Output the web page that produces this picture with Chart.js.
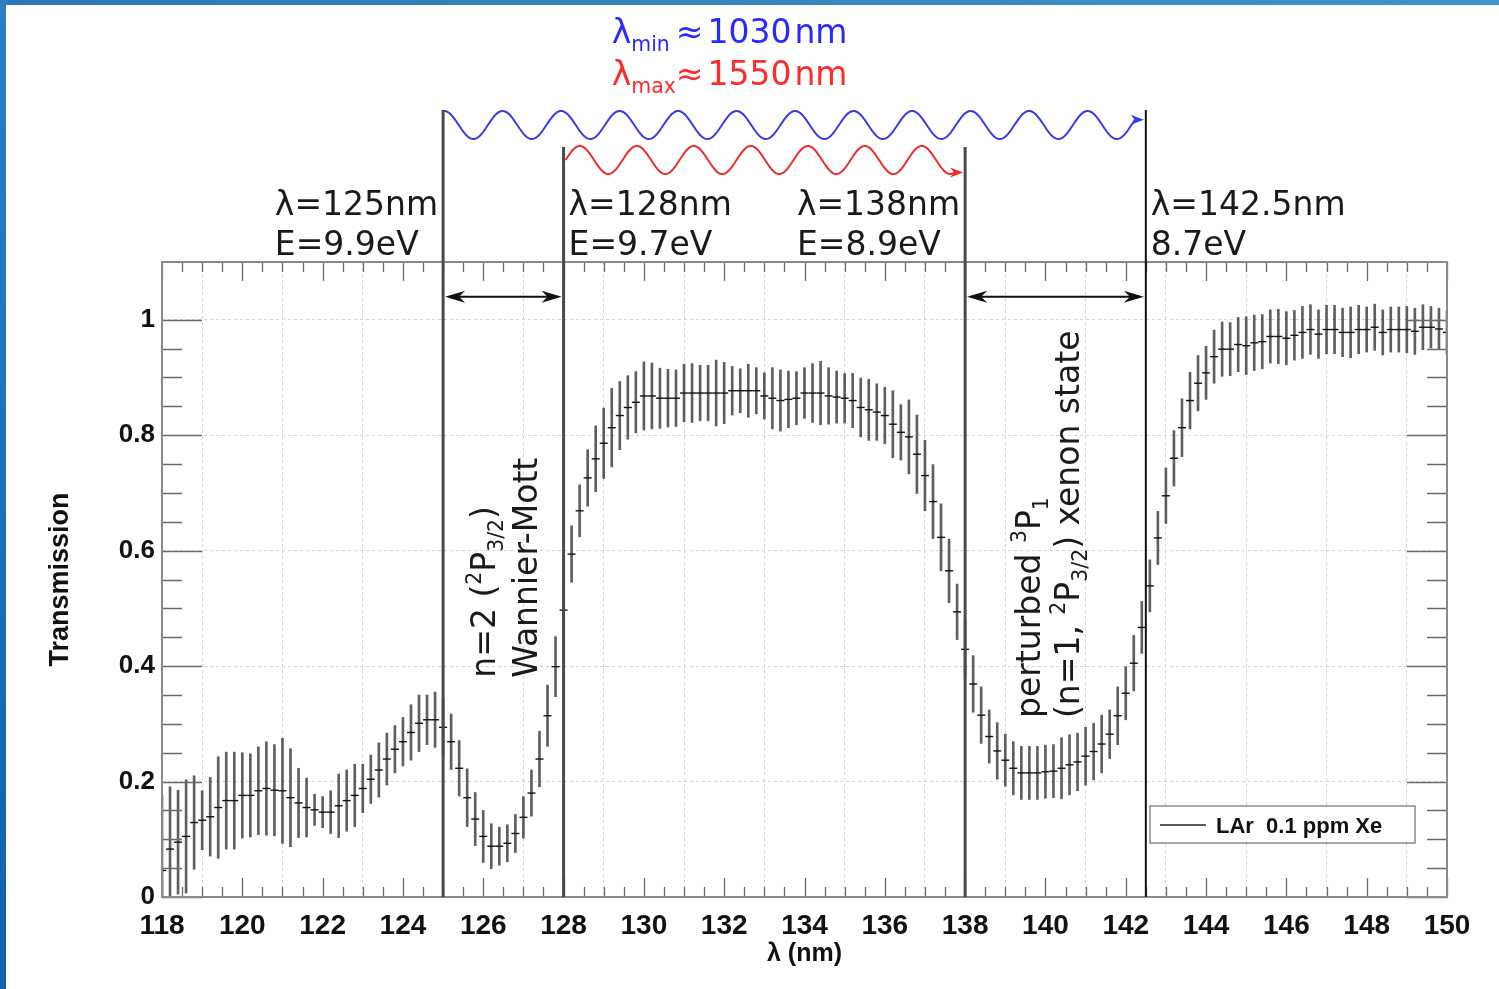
<!DOCTYPE html>
<html>
<head>
<meta charset="utf-8">
<title>LAr 0.1 ppm Xe - Transmission</title>
<script src="https://cdn.jsdelivr.net/npm/chart.js@4.4.1/dist/chart.umd.min.js"></script>
<style>
  html, body { margin: 0; padding: 0; background: #fff; }
  #wrap { position: relative; width: 1499px; height: 989px; overflow: hidden; background: #fff; }
  #topbar { position: absolute; left: 0; top: 0; width: 1499px; height: 5px; background: linear-gradient(90deg, #2a78b8, #3f92cc); z-index: 2; }
  #leftbar { position: absolute; left: 0; top: 0; width: 6px; height: 989px; background: linear-gradient(180deg, #2b7fbf, #1261a9); z-index: 2; }
  canvas { position: absolute; left: 0; top: 0; }
</style>
</head>
<body>
<div id="wrap">
  <div id="topbar"></div>
  <div id="leftbar"></div>
  <canvas id="chart" width="1499" height="989"></canvas>
</div>
<script>
// Transmisión de LAr con 0.1 ppm de Xe, con barras de error.

const wavelengths = [
  118.0, 118.2, 118.4, 118.6, 118.8, 119.0, 119.2, 119.4, 119.6, 119.8,
  120.0, 120.2, 120.4, 120.6, 120.8, 121.0, 121.2, 121.4, 121.6, 121.8,
  122.0, 122.2, 122.4, 122.6, 122.8, 123.0, 123.2, 123.4, 123.6, 123.8,
  124.0, 124.2, 124.4, 124.6, 124.8, 125.0, 125.2, 125.4, 125.6, 125.8,
  126.0, 126.2, 126.4, 126.6, 126.8, 127.0, 127.2, 127.4, 127.6, 127.8,
  128.0, 128.2, 128.4, 128.6, 128.8, 129.0, 129.2, 129.4, 129.6, 129.8,
  130.0, 130.2, 130.4, 130.6, 130.8, 131.0, 131.2, 131.4, 131.6, 131.8,
  132.0, 132.2, 132.4, 132.6, 132.8, 133.0, 133.2, 133.4, 133.6, 133.8,
  134.0, 134.2, 134.4, 134.6, 134.8, 135.0, 135.2, 135.4, 135.6, 135.8,
  136.0, 136.2, 136.4, 136.6, 136.8, 137.0, 137.2, 137.4, 137.6, 137.8,
  138.0, 138.2, 138.4, 138.6, 138.8, 139.0, 139.2, 139.4, 139.6, 139.8,
  140.0, 140.2, 140.4, 140.6, 140.8, 141.0, 141.2, 141.4, 141.6, 141.8,
  142.0, 142.2, 142.4, 142.6, 142.8, 143.0, 143.2, 143.4, 143.6, 143.8,
  144.0, 144.2, 144.4, 144.6, 144.8, 145.0, 145.2, 145.4, 145.6, 145.8,
  146.0, 146.2, 146.4, 146.6, 146.8, 147.0, 147.2, 147.4, 147.6, 147.8,
  148.0, 148.2, 148.4, 148.6, 148.8, 149.0, 149.2, 149.4, 149.6, 149.8,
  150.0
];

const transmission = [
  0.046, 0.083, 0.095, 0.105, 0.129, 0.133, 0.139, 0.155, 0.167, 0.167,
  0.176, 0.176, 0.184, 0.188, 0.185, 0.184, 0.172, 0.163, 0.155, 0.151,
  0.147, 0.147, 0.158, 0.167, 0.176, 0.188, 0.204, 0.220, 0.239, 0.256,
  0.269, 0.285, 0.301, 0.307, 0.307, 0.294, 0.269, 0.223, 0.172, 0.135,
  0.105, 0.088, 0.088, 0.093, 0.110, 0.138, 0.180, 0.239, 0.314, 0.399,
  0.497, 0.594, 0.669, 0.726, 0.759, 0.786, 0.813, 0.834, 0.848, 0.857,
  0.868, 0.868, 0.864, 0.864, 0.864, 0.873, 0.873, 0.873, 0.873, 0.873,
  0.873, 0.877, 0.877, 0.877, 0.877, 0.868, 0.864, 0.860, 0.862, 0.864,
  0.873, 0.873, 0.873, 0.868, 0.866, 0.864, 0.860, 0.848, 0.844, 0.840,
  0.834, 0.819, 0.805, 0.797, 0.767, 0.730, 0.685, 0.623, 0.565, 0.494,
  0.429, 0.369, 0.315, 0.278, 0.253, 0.237, 0.223, 0.215, 0.215, 0.215,
  0.217, 0.218, 0.223, 0.229, 0.234, 0.244, 0.252, 0.265, 0.282, 0.314,
  0.353, 0.405, 0.467, 0.539, 0.622, 0.695, 0.760, 0.813, 0.860, 0.890,
  0.908, 0.936, 0.949, 0.949, 0.957, 0.955, 0.960, 0.962, 0.971, 0.971,
  0.968, 0.973, 0.978, 0.983, 0.975, 0.983, 0.983, 0.978, 0.978, 0.983,
  0.983, 0.987, 0.978, 0.983, 0.983, 0.983, 0.980, 0.987, 0.987, 0.984,
  0.978
];

const transmissionErr = [
  0.130, 0.108, 0.090, 0.098, 0.081, 0.051, 0.068, 0.088, 0.084, 0.084,
  0.074, 0.072, 0.076, 0.081, 0.079, 0.091, 0.085, 0.060, 0.051, 0.027,
  0.027, 0.037, 0.055, 0.053, 0.054, 0.042, 0.042, 0.047, 0.045, 0.041,
  0.042, 0.048, 0.049, 0.043, 0.048, 0.050, 0.048, 0.048, 0.050, 0.046,
  0.045, 0.039, 0.033, 0.032, 0.033, 0.036, 0.040, 0.048, 0.053, 0.052,
  0.050, 0.049, 0.045, 0.049, 0.057, 0.061, 0.068, 0.059, 0.055, 0.053,
  0.059, 0.057, 0.052, 0.050, 0.049, 0.050, 0.051, 0.048, 0.048, 0.057,
  0.053, 0.042, 0.038, 0.046, 0.040, 0.040, 0.053, 0.053, 0.049, 0.046,
  0.044, 0.051, 0.055, 0.049, 0.045, 0.043, 0.047, 0.051, 0.053, 0.049,
  0.049, 0.058, 0.048, 0.064, 0.068, 0.061, 0.064, 0.058, 0.055, 0.048,
  0.049, 0.049, 0.049, 0.046, 0.049, 0.045, 0.046, 0.046, 0.046, 0.046,
  0.046, 0.046, 0.053, 0.052, 0.050, 0.050, 0.049, 0.050, 0.042, 0.050,
  0.046, 0.048, 0.045, 0.045, 0.046, 0.048, 0.048, 0.050, 0.049, 0.048,
  0.046, 0.046, 0.047, 0.046, 0.047, 0.050, 0.048, 0.047, 0.046, 0.047,
  0.046, 0.043, 0.045, 0.043, 0.042, 0.042, 0.042, 0.042, 0.044, 0.042,
  0.039, 0.040, 0.039, 0.039, 0.039, 0.040, 0.040, 0.039, 0.036, 0.036,
  0.038
];

const seriesLabel = "LAr  0.1 ppm Xe";
const xRange = [118, 150];
const yRange = [0, 1.1];
const xMajorStep = 2;
const xMinorStep = 0.5;
const yMajorStep = 0.2;
const yMinorStep = 0.05;

// Líneas verticales: [lambda, texto lambda, texto energía]
const edgeLambdas = [125, 128, 138, 142.5];
const edgeLambdaLabels = ["\u03bb=125nm", "\u03bb=128nm", "\u03bb=138nm", "\u03bb=142.5nm"];
const edgeEnergyLabels = ["E=9.9eV", "E=9.7eV", "E=8.9eV", "8.7eV"];

const SANS = "'DejaVu Sans', 'Noto Sans', sans-serif";
const BOLD = "'Liberation Sans', Arial, Helvetica, sans-serif";

// Dibuja texto con super/subíndices.
function drawRuns(ctx, runs, x, y, size) {
  let cx = x;
  for (const run of runs) {
    const small = run.k !== "n";
    const s = small ? size * 0.62 : size;
    const dy = run.k === "sup" ? -size * 0.42 : run.k === "sub" ? size * 0.24 : 0;
    ctx.font = `${s}px ${SANS}`;
    ctx.fillText(run.t, cx, y + dy);
    cx += ctx.measureText(run.t).width + (run.gap || 0);
  }
  return cx - x;
}

function arrowHead(ctx, x, y, dir, len, half) {
  ctx.beginPath();
  ctx.moveTo(x, y);
  ctx.lineTo(x - dir * len, y - half);
  ctx.lineTo(x - dir * len * 0.7, y);
  ctx.lineTo(x - dir * len, y + half);
  ctx.closePath();
  ctx.fill();
}

function drawWave(ctx, x0, x1, yc, amp, period, phase, color) {
  ctx.save();
  ctx.strokeStyle = color;
  ctx.fillStyle = color;
  ctx.lineWidth = 2;
  ctx.beginPath();
  const end = x1 - 8;
  let lastY = yc;
  for (let x = x0; x <= end; x += 1) {
    lastY = yc - amp * Math.cos((2 * Math.PI * (x - x0)) / period + phase);
    if (x === x0) ctx.moveTo(x, lastY);
    else ctx.lineTo(x, lastY);
  }
  ctx.lineTo(x1 - 6, lastY);
  ctx.stroke();
  arrowHead(ctx, x1, lastY, 1, 13, 5);
  ctx.restore();
}

const frameAndTicks = {
  id: "frameAndTicks",
  afterDatasetsDraw(chart) {
    const { ctx, chartArea: ca, scales: { x, y } } = chart;
    ctx.save();
    ctx.strokeStyle = "#6a6a6a";
    ctx.lineWidth = 1.3;
    ctx.beginPath();
    for (let v = xRange[0]; v <= xRange[1] + 1e-6; v += xMinorStep) {
      const px = Math.round(x.getPixelForValue(v)) + 0.5;
      const major = Math.abs(v / xMajorStep - Math.round(v / xMajorStep)) < 1e-6;
      const len = major ? 19 : 10;
      ctx.moveTo(px, ca.bottom);
      ctx.lineTo(px, ca.bottom - len);
      ctx.moveTo(px, ca.top);
      ctx.lineTo(px, ca.top + len);
    }
    for (let v = yRange[0]; v <= 1.0 + 1e-6; v += yMinorStep) {
      const py = Math.round(y.getPixelForValue(v)) + 0.5;
      const major = Math.abs(v / yMajorStep - Math.round(v / yMajorStep)) < 1e-6;
      const len = major ? 40 : 20;
      ctx.moveTo(ca.left, py);
      ctx.lineTo(ca.left + len, py);
      ctx.moveTo(ca.right, py);
      ctx.lineTo(ca.right - len, py);
    }
    ctx.stroke();
    ctx.strokeStyle = "#8a8a8a";
    ctx.lineWidth = 2;
    ctx.strokeRect(ca.left, ca.top, ca.right - ca.left, ca.bottom - ca.top);
    ctx.restore();
  }
};

const annotations = {
  id: "annotations",
  afterDraw(chart) {
    const { ctx, chartArea: ca, scales: { x, y } } = chart;
    const px = edgeLambdas.map((v) => x.getPixelForValue(v));
    ctx.save();

    // líneas verticales de los bordes
    const tops = [ca.top - 152, ca.top - 115, ca.top - 115, ca.top - 152];
    px.forEach((p, i) => {
      ctx.strokeStyle = i === 3 ? "#111" : "#4a4a4a";
      ctx.lineWidth = i === 3 ? 2 : 3;
      ctx.beginPath();
      ctx.moveTo(p, tops[i]);
      ctx.lineTo(p, ca.bottom);
      ctx.stroke();
    });

    // flechas dobles
    ctx.strokeStyle = "#111";
    ctx.fillStyle = "#111";
    ctx.lineWidth = 2;
    const ay = y.getPixelForValue(1.04);
    [[px[0], px[1]], [px[2], px[3]]].forEach(([a, b]) => {
      ctx.beginPath();
      ctx.moveTo(a + 6, ay);
      ctx.lineTo(b - 6, ay);
      ctx.stroke();
      arrowHead(ctx, a + 2, ay, -1, 20, 6);
      arrowHead(ctx, b - 2, ay, 1, 20, 6);
    });

    // ondas
    drawWave(ctx, px[0] + 1, px[3] - 2, ca.top - 137, 14, 58.5, 0, "#3a3ae8");
    drawWave(ctx, px[1] + 2, px[2] - 2, ca.top - 102, 14, 57, -Math.PI / 2, "#ee2a2a");

    // etiquetas lambda / energía
    ctx.fillStyle = "#1a1a1a";
    ctx.textBaseline = "alphabetic";
    ctx.textAlign = "left";
    ctx.font = `33px ${SANS}`;
    const row1 = ca.top - 47;
    const row2 = ca.top - 7;
    edgeLambdaLabels.forEach((txt, i) => {
      const w = ctx.measureText(txt).width;
      const left = i === 0 || i === 2 ? px[i] - 5 - w : px[i] + 5;
      ctx.fillText(txt, left, row1);
      ctx.fillText(edgeEnergyLabels[i], left, row2);
    });

    // lambda min / max
    const lx = x.getPixelForValue(129.2);
    ctx.fillStyle = "#2a2aff";
    drawRuns(ctx, [{ t: "\u03bb", k: "n" }, { t: "min", k: "sub", gap: 6 }, { t: "\u2248", k: "n", gap: 4 }, { t: "1030", k: "n", gap: 3 }, { t: "nm", k: "n" }], lx, ca.top - 219, 33);
    ctx.fillStyle = "#ff2a2a";
    drawRuns(ctx, [{ t: "\u03bb", k: "n" }, { t: "max", k: "sub" }, { t: "\u2248", k: "n", gap: 4 }, { t: "1550", k: "n", gap: 3 }, { t: "nm", k: "n" }], lx, ca.top - 177, 33);

    // textos girados
    ctx.fillStyle = "#1a1a1a";
    const rotated = [
      { v: 126.3, t: 0.38, runs: [{ t: "n=2 (", k: "n" }, { t: "2", k: "sup" }, { t: "P", k: "n" }, { t: "3/2", k: "sub" }, { t: ")", k: "n" }] },
      { v: 127.33, t: 0.38, runs: [{ t: "Wannier-Mott", k: "n" }] },
      { v: 139.87, t: 0.31, runs: [{ t: "perturbed ", k: "n" }, { t: "3", k: "sup" }, { t: "P", k: "n" }, { t: "1", k: "sub" }] },
      { v: 140.84, t: 0.31, runs: [{ t: "(n=1, ", k: "n" }, { t: "2", k: "sup" }, { t: "P", k: "n" }, { t: "3/2", k: "sub" }, { t: ") xenon state", k: "n" }] }
    ];
    rotated.forEach((r) => {
      ctx.save();
      ctx.translate(x.getPixelForValue(r.v), y.getPixelForValue(r.t));
      ctx.rotate(-Math.PI / 2);
      drawRuns(ctx, r.runs, 0, 0, 33);
      ctx.restore();
    });

    // leyenda
    const bx = ca.right - 297;
    const by = ca.bottom - 91;
    const bw = 265;
    const bh = 37;
    ctx.fillStyle = "#fff";
    ctx.fillRect(bx, by, bw, bh);
    ctx.strokeStyle = "#8a8a8a";
    ctx.lineWidth = 1.5;
    ctx.strokeRect(bx, by, bw, bh);
    ctx.strokeStyle = "#222";
    ctx.lineWidth = 1.5;
    ctx.beginPath();
    ctx.moveTo(bx + 10, by + 19);
    ctx.lineTo(bx + 56, by + 19);
    ctx.stroke();
    ctx.fillStyle = "#111";
    ctx.font = `bold 22px ${BOLD}`;
    ctx.fillText(seriesLabel, bx + 66, by + 27);

    ctx.restore();
  }
};

const errorBars = wavelengths.map((lambda, i) => ({
  x: lambda,
  y: [transmission[i] - transmissionErr[i], transmission[i] + transmissionErr[i]]
}));
const points = wavelengths.map((lambda, i) => ({ x: lambda, y: transmission[i] }));

const gridColor = "#d4d4d4";

new Chart(document.getElementById("chart").getContext("2d"), {
  type: "line",
  data: {
    datasets: [
      {
        type: "bar",
        label: "error",
        data: errorBars,
        backgroundColor: "rgba(60,60,60,0.82)",
        borderWidth: 0,
        barThickness: 2,
        grouped: false,
        order: 2
      },
      {
        type: "line",
        label: seriesLabel,
        data: points,
        showLine: false,
        pointStyle: "line",
        pointRadius: 4,
        pointHoverRadius: 4,
        pointBorderColor: "#111",
        pointBorderWidth: 1.4,
        order: 1
      }
    ]
  },
  options: {
    responsive: false,
    animation: false,
    devicePixelRatio: 1,
    events: [],
    layout: { padding: { top: 262, right: 52, left: 0, bottom: 0 } },
    plugins: { legend: { display: false }, tooltip: { enabled: false } },
    scales: {
      x: {
        type: "linear",
        min: xRange[0],
        max: xRange[1],
        offset: false,
        ticks: {
          stepSize: xMajorStep,
          color: "#111",
          padding: 12,
          maxRotation: 0,
          autoSkip: false,
          font: { family: BOLD, size: 28, weight: "bold" }
        },
        grid: { color: gridColor, lineWidth: 1, drawTicks: false },
        border: { display: false, dash: [3, 3] },
        title: {
          display: true,
          text: "\u03bb (nm)",
          color: "#111",
          font: { family: BOLD, size: 25, weight: "bold" },
          padding: { top: 0, bottom: 20 }
        },
        afterFit(scale) { scale.height = 92; }
      },
      y: {
        min: yRange[0],
        max: yRange[1],
        ticks: {
          stepSize: yMajorStep,
          color: "#111",
          padding: 7,
          font: { family: BOLD, size: 26, weight: "bold" },
          callback: (v) => (v > 1.05 ? "" : String(Math.round(v * 10) / 10))
        },
        grid: {
          color: (c) => (c.tick && c.tick.value > 1.05 ? "rgba(0,0,0,0)" : gridColor),
          lineWidth: 1,
          drawTicks: false
        },
        border: { display: false, dash: [3, 3] },
        title: {
          display: true,
          text: "Transmission",
          color: "#111",
          font: { family: BOLD, size: 27, weight: "bold" },
          padding: { top: 44, bottom: 0 }
        },
        afterFit(scale) { scale.width = 162; }
      }
    }
  },
  plugins: [frameAndTicks, annotations]
});
</script>
</body>
</html>
